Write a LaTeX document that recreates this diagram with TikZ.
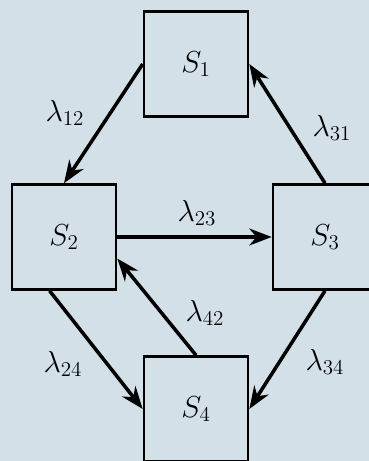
\documentclass[tikz,border=0pt]{standalone}
\usetikzlibrary{arrows.meta}
\definecolor{bgblue}{HTML}{D3E0E8}

\begin{document}
\begin{tikzpicture}[x=0.02cm, y=-0.02cm,
    state/.style={rectangle, draw, line width=1.5pt, minimum width=2.08cm, minimum height=2.1cm, font=\fontsize{17}{19}\selectfont},
    rate/.style={inner sep=1pt, font=\fontsize{18}{20}\selectfont},
    trans/.style={line width=2pt, -{Stealth[length=4.5mm, width=3.4mm]}}]
    \fill[bgblue] (0,0) rectangle (369,461);
    \useasboundingbox (0,0) rectangle (369,461);
    \node[state] (s1) at (196,64) {$S_1$};
    \node[state] (s2) at (64,237) {$S_2$};
    \node[state] (s3) at (325,237) {$S_3$};
    \node[state] (s4) at (196,409) {$S_4$};
    \draw[trans] (s1.west) -- (s2.north);
    \draw[trans] (s3.north) -- (s1.east);
    \draw[trans] (s2.east) -- (s3.west);
    \draw[trans] (s4.north) -- (s2.-22);
    \draw[trans] (s2.255) -- (s4.west);
    \draw[trans] (s3.south) -- (s4.east);
    \node[rate] (l12) at (65,113) {$\lambda_{12}$};
    \node[rate] (l31) at (332,128) {$\lambda_{31}$};
    \node[rate] (l23) at (197,213) {$\lambda_{23}$};
    \node[rate] (l42) at (205,313) {$\lambda_{42}$};
    \node[rate] (l24) at (63,364) {$\lambda_{24}$};
    \node[rate] (l34) at (325,362) {$\lambda_{34}$};
\end{tikzpicture}
\end{document}
